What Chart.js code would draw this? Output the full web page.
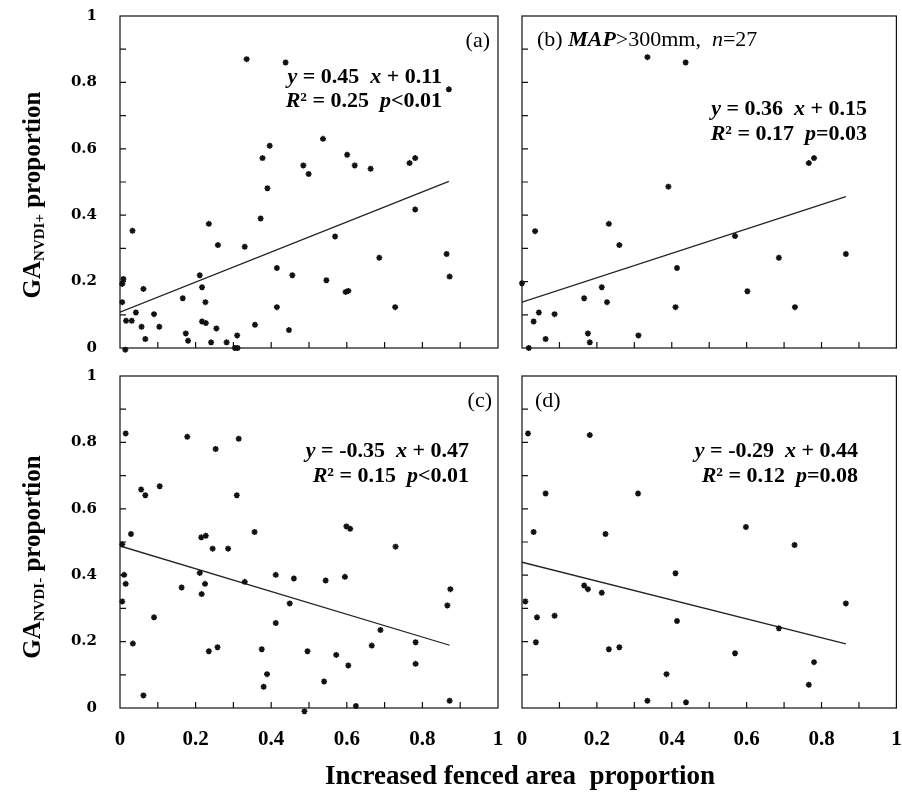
<!DOCTYPE html>
<html>
<head>
<meta charset="utf-8">
<script src="https://cdn.jsdelivr.net/npm/chart.js@4.4.0/dist/chart.umd.min.js"></script>
<style>
  html, body { margin: 0; padding: 0; background: #fff; }
  #wrap { position: relative; width: 902px; height: 795px; }
  #wrap canvas { position: absolute; left: 0; top: 0; }
</style>
</head>
<body>
<div id="wrap">
  <canvas id="cA" width="902" height="795"></canvas>
  <canvas id="cB" width="902" height="795"></canvas>
  <canvas id="cC" width="902" height="795"></canvas>
  <canvas id="cD" width="902" height="795"></canvas>
</div>
<script>
// (a) GA NVDI+ vs increased fenced area, all sites
var pointsA = [[0.335,0.870],[0.438,0.860],[0.870,0.779],[0.537,0.630],[0.396,0.609],[0.377,0.572],
  [0.601,0.582],[0.621,0.550],[0.485,0.550],[0.499,0.524],[0.663,0.540],[0.766,0.557],[0.781,0.572],
  [0.390,0.481],[0.781,0.417],[0.372,0.390],[0.033,0.353],[0.235,0.374],[0.569,0.336],[0.259,0.310],
  [0.330,0.305],[0.686,0.272],[0.864,0.283],[0.415,0.241],[0.456,0.219],[0.872,0.215],[0.546,0.204],
  [0.211,0.219],[0.217,0.183],[0.009,0.208],[0.006,0.193],[0.062,0.178],[0.597,0.169],[0.604,0.172],
  [0.166,0.150],[0.226,0.138],[0.006,0.138],[0.042,0.107],[0.090,0.102],[0.415,0.123],[0.728,0.123],
  [0.016,0.082],[0.031,0.082],[0.217,0.080],[0.227,0.075],[0.057,0.064],[0.104,0.064],[0.357,0.070],
  [0.255,0.059],[0.174,0.044],[0.447,0.054],[0.310,0.038],[0.067,0.027],[0.180,0.022],[0.241,0.017],
  [0.282,0.017],[0.304,0.000],[0.311,0.000],[0.014,-0.005]];
// (b) MAP > 300 mm, n = 27
var pointsB = [[0.335,0.876],[0.437,0.860],[0.766,0.557],[0.780,0.572],[0.391,0.486],[0.232,0.374],
  [0.035,0.352],[0.260,0.310],[0.569,0.337],[0.686,0.272],[0.865,0.283],[0.414,0.241],[0.213,0.183],
  [0.602,0.171],[0.166,0.150],[0.227,0.138],[0.410,0.123],[0.729,0.123],[0.045,0.107],[0.087,0.102],
  [0.031,0.080],[0.176,0.044],[0.063,0.027],[0.181,0.017],[0.311,0.038],[0.018,0.000],[0.000,0.195]];
// (c) GA NVDI- vs increased fenced area, all sites
var pointsC = [[0.015,0.827],[0.178,0.817],[0.314,0.811],[0.253,0.780],[0.056,0.658],[0.067,0.641],
  [0.105,0.668],[0.309,0.641],[0.599,0.547],[0.609,0.540],[0.029,0.524],[0.356,0.530],[0.215,0.514],
  [0.227,0.519],[0.006,0.493],[0.245,0.480],[0.286,0.480],[0.729,0.486],[0.211,0.407],[0.011,0.401],
  [0.412,0.401],[0.460,0.390],[0.544,0.384],[0.595,0.395],[0.330,0.380],[0.015,0.374],[0.225,0.374],
  [0.163,0.363],[0.874,0.358],[0.216,0.343],[0.006,0.321],[0.449,0.315],[0.866,0.309],[0.090,0.273],
  [0.412,0.256],[0.689,0.235],[0.034,0.194],[0.782,0.198],[0.258,0.183],[0.235,0.171],[0.375,0.177],
  [0.496,0.171],[0.666,0.188],[0.572,0.160],[0.782,0.133],[0.604,0.128],[0.389,0.102],[0.540,0.080],
  [0.380,0.064],[0.062,0.038],[0.872,0.022],[0.624,0.006],[0.488,-0.010]];
// (d) MAP > 300 mm
var pointsD = [[0.016,0.827],[0.181,0.822],[0.063,0.646],[0.310,0.646],[0.598,0.545],[0.031,0.530],
  [0.223,0.524],[0.728,0.491],[0.410,0.406],[0.166,0.369],[0.176,0.358],[0.213,0.347],[0.009,0.321],
  [0.865,0.315],[0.040,0.273],[0.087,0.278],[0.414,0.262],[0.686,0.240],[0.037,0.198],[0.232,0.177],
  [0.260,0.183],[0.569,0.165],[0.780,0.138],[0.386,0.102],[0.766,0.070],[0.335,0.022],[0.438,0.017]];

// fitted lines (end points)
var trendA = [[0, 0.108], [0.870, 0.502]];
var trendB = [[0, 0.138], [0.865, 0.456]];
var trendC = [[0, 0.488], [0.872, 0.189]];
var trendD = [[0, 0.439], [0.865, 0.193]];

var minorTicks = [0.1, 0.2, 0.3, 0.4, 0.5, 0.6, 0.7, 0.8, 0.9];

var SERIF = '"Liberation Serif", "Times New Roman", serif';
function f(style, size) { return style + ' ' + size + 'px ' + SERIF; }

// draw a row of text pieces [text, font, dy]
function richText(ctx, parts, x, y, align) {
  var total = 0;
  parts.forEach(function (p) { ctx.font = p[1]; total += ctx.measureText(p[0]).width; });
  var cx = align === 'right' ? x - total : (align === 'center' ? x - total / 2 : x);
  parts.forEach(function (p) {
    ctx.font = p[1];
    ctx.fillText(p[0], cx, y + (p[2] || 0));
    cx += ctx.measureText(p[0]).width;
  });
}

function equation(ctx, line1, line2, rightX, base1, base2) {
  var B = f('bold', 22), BI = f('italic bold', 22);
  richText(ctx, [['y', BI], [' = ' + line1[0] + '  ', B], ['x', BI], [' + ' + line1[1], B]], rightX, base1, 'right');
  richText(ctx, [['R', BI], ['² = ' + line2[0] + '  ', B], ['p', BI], [line2[1], B]], rightX, base2, 'right');
}

function yTitle(ctx, sub, cx, cy) {
  var parts = [['GA', f('bold', 25), 0], [sub, f('bold', 15), 4], [' proportion', f('bold', 25), 0]];
  ctx.save();
  ctx.translate(cx, cy);
  ctx.rotate(-Math.PI / 2);
  richText(ctx, parts, 0, 8, 'center');
  ctx.restore();
}

var framePlugin = {
  id: 'frame',
  afterDatasetsDraw: function (chart) {
    var ctx = chart.ctx, a = chart.chartArea, sx = chart.scales.x, sy = chart.scales.y;
    ctx.save();
    ctx.strokeStyle = '#111';
    ctx.lineWidth = 1.2;
    ctx.strokeRect(a.left, a.top, a.right - a.left, a.bottom - a.top);
    ctx.beginPath();
    minorTicks.forEach(function (v) {
      var px = sx.getPixelForValue(v), py = sy.getPixelForValue(v);
      ctx.moveTo(px, a.bottom); ctx.lineTo(px, a.bottom - 6);
      ctx.moveTo(a.left, py); ctx.lineTo(a.left + 6, py);
    });
    ctx.stroke();
    ctx.restore();
  }
};

function textPlugin(draw) {
  return {
    id: 'notes',
    afterDraw: function (chart) {
      var ctx = chart.ctx;
      ctx.save();
      ctx.fillStyle = '#000';
      ctx.textBaseline = 'alphabetic';
      ctx.textAlign = 'left';
      draw(ctx);
      ctx.restore();
    }
  };
}

function toXY(arr) { return arr.map(function (p) { return { x: p[0], y: p[1] }; }); }
function tickText(v) { return String(Math.round(v * 10) / 10); }

function makePanel(id, pts, trend, pad, showX, showY, draw) {
  return new Chart(document.getElementById(id), {
    type: 'scatter',
    data: {
      datasets: [
        { data: toXY(pts), pointStyle: 'star', radius: 3, borderColor: '#111',
          backgroundColor: '#111', borderWidth: 1.6, clip: false },
        { data: toXY(trend), showLine: true, pointRadius: 0, borderColor: '#222',
          borderWidth: 1.3, fill: false }
      ]
    },
    options: {
      responsive: false,
      animation: false,
      devicePixelRatio: 1,
      layout: { padding: pad },
      plugins: { legend: { display: false }, tooltip: { enabled: false } },
      scales: {
        x: {
          type: 'linear', min: 0, max: 1, display: showX,
          ticks: { stepSize: 0.2, color: '#000', padding: 19, maxRotation: 0, autoSkip: false,
                   callback: tickText,
                   font: { family: SERIF, weight: 'bold', size: 21 } },
          grid: { display: false, drawTicks: false },
          border: { display: false },
          afterFit: function (s) {
            s.height = showX ? 50 : 0; s.paddingLeft = 0; s.paddingRight = 0;
          }
        },
        y: {
          type: 'linear', min: 0, max: 1, display: showY,
          ticks: { stepSize: 0.2, color: '#000', padding: 23, callback: tickText,
                   font: { family: '"DejaVu Serif", serif', weight: 'bold', size: 15 } },
          grid: { display: false, drawTicks: false },
          border: { display: false },
          afterFit: function (s) {
            s.width = showY ? 120 : 0; s.paddingTop = 0; s.paddingBottom = 0;
          }
        }
      }
    },
    plugins: [framePlugin, textPlugin(draw)]
  });
}

makePanel('cA', pointsA, trendA, { left: 0, top: 16, right: 404, bottom: 447 }, false, true, function (ctx) {
  ctx.font = f('', 22);
  ctx.textAlign = 'right';
  ctx.fillText('(a)', 490, 47);
  ctx.textAlign = 'left';
  equation(ctx, ['0.45', '0.11'], ['0.25', '<0.01'], 442, 83, 107);
  yTitle(ctx, 'NVDI+', 32, 195);
});

makePanel('cB', pointsB, trendB, { left: 522, top: 16, right: 1, bottom: 447 }, false, false, function (ctx) {
  var R = f('', 22), I = f('italic', 22), BI = f('italic bold', 22);
  richText(ctx, [['(b) ', R], ['MAP', BI], ['>300mm,  ', R], ['n', I], ['=27', R]], 537, 46, 'left');
  equation(ctx, ['0.36', '0.15'], ['0.17', '=0.03'], 867, 115, 140);
});

makePanel('cC', pointsC, trendC, { left: 0, top: 376, right: 404, bottom: 37 }, true, true, function (ctx) {
  ctx.font = f('', 22);
  ctx.textAlign = 'right';
  ctx.fillText('(c)', 492, 407);
  ctx.textAlign = 'left';
  equation(ctx, ['-0.35', '0.47'], ['0.15', '<0.01'], 469, 457, 482);
  yTitle(ctx, 'NVDI-', 32, 557);
  ctx.font = f('bold', 27);
  ctx.textAlign = 'center';
  ctx.fillText('Increased fenced area  proportion', 520, 784);
});

makePanel('cD', pointsD, trendD, { left: 522, top: 376, right: 1, bottom: 37 }, true, false, function (ctx) {
  ctx.font = f('', 22);
  ctx.fillText('(d)', 535, 407);
  equation(ctx, ['-0.29', '0.44'], ['0.12', '=0.08'], 858, 457, 482);
});
</script>
</body>
</html>
